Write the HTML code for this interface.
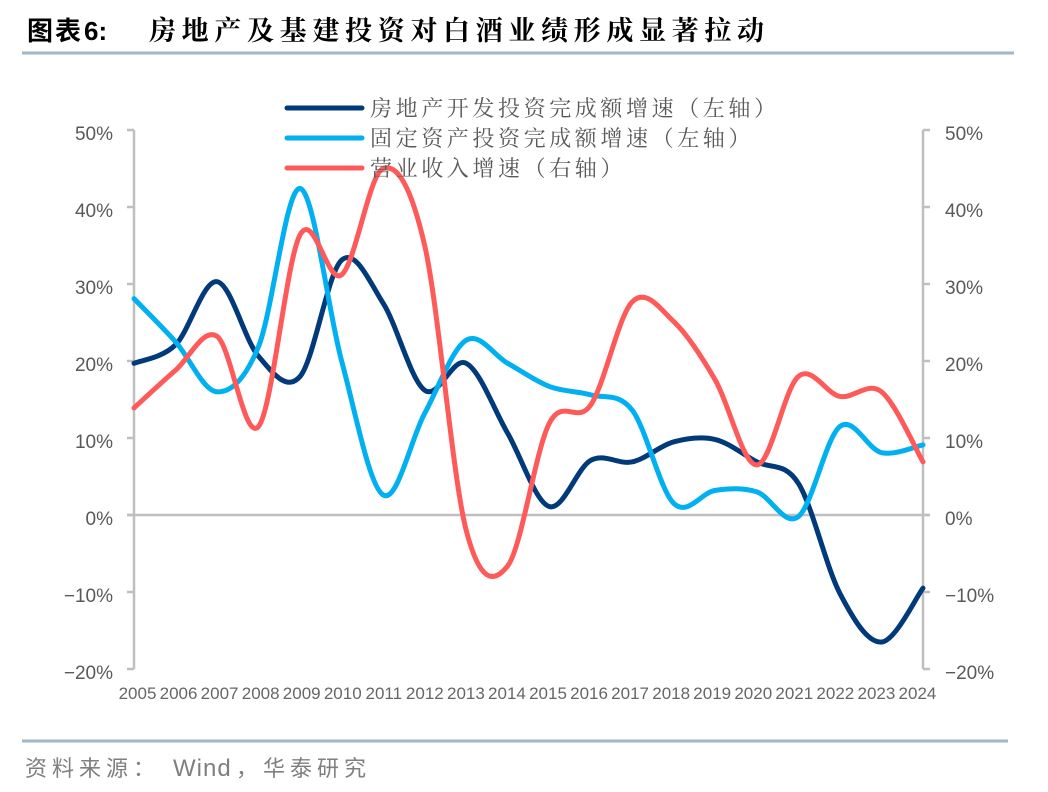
<!DOCTYPE html>
<html>
<head>
<meta charset="utf-8">
<style>
  html,body{margin:0;padding:0;background:#fff;}
  body{width:1048px;height:792px;overflow:hidden;}
  svg{display:block;}
</style>
</head>
<body>
<svg id="c" width="1048" height="792" viewBox="0 0 1048 792" xmlns="http://www.w3.org/2000/svg">
  <!-- Title -->
  <text x="27" y="40" font-family="'Liberation Sans','Noto Sans CJK SC',sans-serif" font-weight="700" font-size="26" fill="#000" letter-spacing="2">图表</text>
  <text x="84" y="40" font-family="'Liberation Sans',sans-serif" font-weight="700" font-size="26" fill="#000">6:</text>
  <text x="149" y="40" font-family="'Liberation Serif','Noto Serif CJK SC',serif" font-weight="700" font-size="27" fill="#000" textLength="615" lengthAdjust="spacing">房地产及基建投资对白酒业绩形成显著拉动</text>
  <rect x="22" y="51.5" width="992" height="3" fill="#a2b6cd"/>

  <!-- Axes -->
  <g stroke="#bfbfbf" stroke-width="2.5" fill="none" id="axes"></g>
  <g id="labels" font-family="'Liberation Sans',sans-serif" fill="#595959"></g>

  <!-- Series -->
  <g id="series" fill="none" stroke-width="5" stroke-linejoin="round" stroke-linecap="round"></g>

  <!-- Legend -->
  <g stroke-width="5" stroke-linecap="round">
    <line x1="287" y1="108" x2="362" y2="108" stroke="#003a7a"/>
    <line x1="287" y1="138" x2="362" y2="138" stroke="#00b0f0"/>
    <line x1="287" y1="168" x2="362" y2="168" stroke="#ff5a5a"/>
  </g>
  <g font-family="'Liberation Serif','Noto Serif CJK SC',serif" font-size="22" fill="#595959" letter-spacing="3.6">
    <text x="370" y="116">房地产开发投资完成额增速（左轴）</text>
    <text x="370" y="146">固定资产投资完成额增速（左轴）</text>
    <text x="370" y="176">营业收入增速（右轴）</text>
  </g>

  <!-- Footer -->
  <rect x="22" y="739.5" width="986" height="3" fill="#a2b6cd"/>
  <g fill="#7f7f7f">
    <text x="25" y="776" font-family="'Liberation Sans','Noto Sans CJK SC',sans-serif" font-size="22" letter-spacing="5">资料来源：</text>
    <text x="173" y="776" font-family="'Liberation Sans',sans-serif" font-size="24" letter-spacing="1">Wind</text>
    <text x="236" y="776" font-family="'Liberation Sans','Noto Sans CJK SC',sans-serif" font-size="22">，</text>
    <text x="263" y="776" font-family="'Liberation Sans','Noto Sans CJK SC',sans-serif" font-size="22" letter-spacing="5">华泰研究</text>
  </g>
</svg>
<script>
(function(){
  var NS="http://www.w3.org/2000/svg";
  var L=134, R=923;
  function X(i){return L + i*(R-L)/19;}
  function Y(v){return 515 - v*7.7;}
  function el(tag, attrs, parent, txt){
    var e=document.createElementNS(NS,tag);
    for(var k in attrs) e.setAttribute(k, attrs[k]);
    if(txt!==undefined) e.textContent=txt;
    parent.appendChild(e); return e;
  }
  var axes=document.getElementById('axes');
  var labels=document.getElementById('labels');
  el('line',{x1:L,y1:Y(50),x2:L,y2:Y(-20)},axes);
  el('line',{x1:R,y1:Y(50),x2:R,y2:Y(-20)},axes);
  el('line',{x1:L-7,y1:Y(0),x2:R+7,y2:Y(0)},axes);
  for(var v=50; v>=-20; v-=10){
    var y=Y(v);
    el('line',{x1:L-7,y1:y,x2:L,y2:y},axes);
    el('line',{x1:R,y1:y,x2:R+7,y2:y},axes);
    var s=(v<0?'\u2212'+(-v):v)+'%';
    el('text',{x:113,y:y+10,'text-anchor':'end','font-size':19},labels,s);
    el('text',{x:945,y:y+10,'font-size':19},labels,s);
  }
  for(var i=0;i<20;i++){
    el('text',{x:137.5+i*41.05,y:699,'text-anchor':'middle','font-size':17,fill:'#666'},labels,String(2005+i));
  }
  var dark=[19.7,22.1,30.3,20.6,18.0,33.1,27.5,16.2,19.7,10.6,1.1,7.1,6.9,9.5,9.8,6.9,4.1,-10.2,-16.5,-9.5];
  var light=[28.1,22.5,16.0,21.9,42.4,20.0,2.6,13.2,22.7,19.7,16.7,15.6,13.6,1.5,3.2,3.0,-0.2,11.5,8.1,9.1];
  var red=[13.9,18.8,23.2,11.5,36.4,31.2,45.0,35.0,-2.0,-6.6,11.9,14.3,27.7,25.1,17.5,6.5,18.0,15.4,16.0,6.9];
  function path(data){
    var p=data.map(function(v,i){return [X(i),Y(v)];});
    var d='M'+p[0][0].toFixed(2)+','+p[0][1].toFixed(2);
    for(var i=0;i<p.length-1;i++){
      var p0=p[i-1]||p[i], p1=p[i], p2=p[i+1], p3=p[i+2]||p[i+1];
      var c1x=p1[0]+(p2[0]-p0[0])/6, c1y=p1[1]+(p2[1]-p0[1])/6;
      var c2x=p2[0]-(p3[0]-p1[0])/6, c2y=p2[1]-(p3[1]-p1[1])/6;
      d+=' C'+c1x.toFixed(2)+','+c1y.toFixed(2)+' '+c2x.toFixed(2)+','+c2y.toFixed(2)+' '+p2[0].toFixed(2)+','+p2[1].toFixed(2);
    }
    return d;
  }
  var g=document.getElementById('series');
  el('path',{d:path(dark),stroke:'#003a7a'},g);
  el('path',{d:path(light),stroke:'#00b0f0'},g);
  el('path',{d:path(red),stroke:'#ff5a5a'},g);
})();
</script>
</body>
</html>
